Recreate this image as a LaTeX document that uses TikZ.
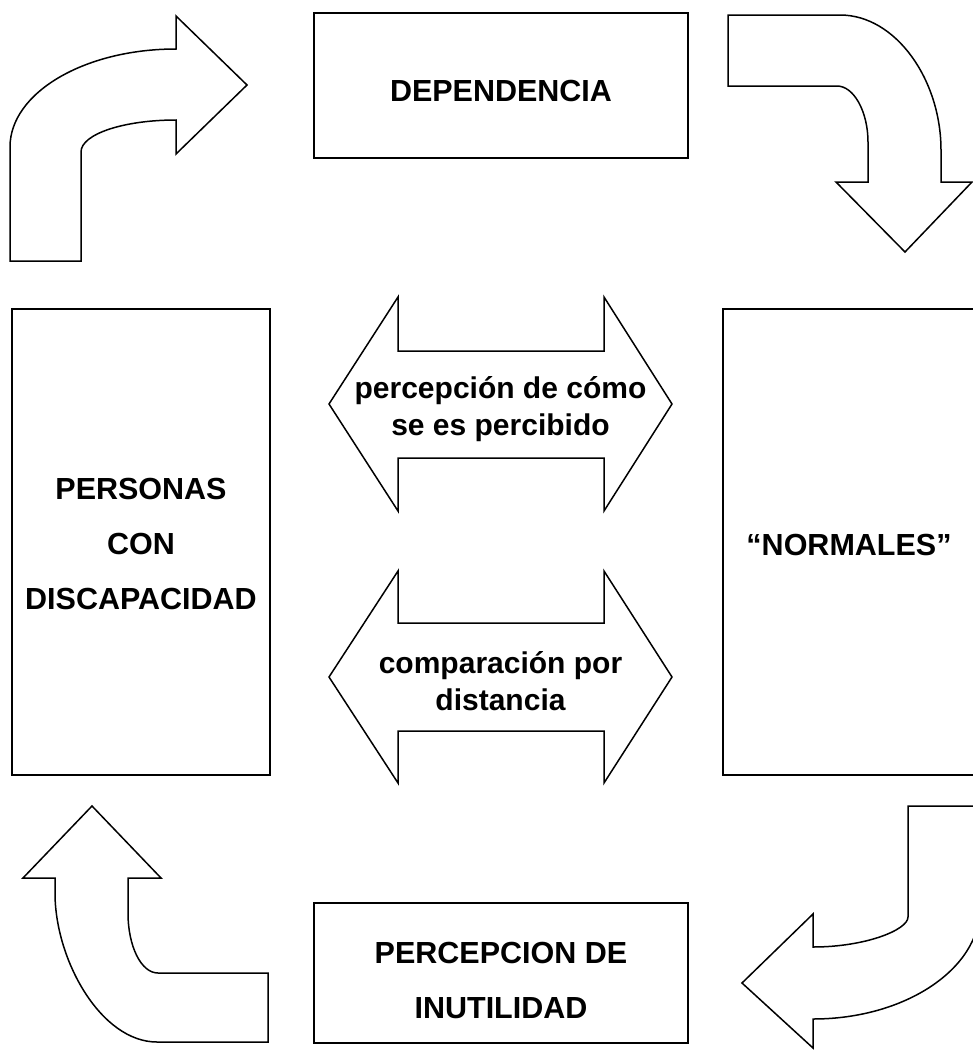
\documentclass[tikz,border=0pt]{standalone}
\usepackage{fontspec}
\setmainfont{Liberation Sans}
\begin{document}
\begin{tikzpicture}[x=1pt,y=-1pt,
  outline/.style={draw=black,line width=1.5pt,line join=miter,fill=white},
  boxnode/.style={draw=black,line width=1.5pt,rectangle,inner sep=0pt},
  boxtext/.style={align=center,inner sep=0pt,font=\fontsize{30.5}{55}\selectfont\bfseries},
  arrowtext/.style={align=center,inner sep=0pt,font=\fontsize{30}{37}\selectfont\bfseries}]
\useasboundingbox (0,0) rectangle (973,1050);
\clip (0,0) rectangle (973,1050);

% top-left curved arrow
\draw[outline] (10,261) -- (10,147) .. controls (10,93) and (84,49) .. (176,49)
  -- (176,16) -- (247,85) -- (176,154) -- (176,120)
  .. controls (124,120) and (81,134) .. (81,152) -- (81,261) -- cycle;

% top-right curved arrow
\draw[outline] (728,15) -- (840,15) .. controls (896,15) and (941,80) .. (941,150)
  -- (941,182) -- (972,182) -- (905,252) -- (836,182) -- (868,182) -- (868,142)
  .. controls (868,112) and (854,86) .. (837,86) -- (728,86) -- cycle;

% bottom-left curved arrow
\draw[outline] (92,806) -- (161,878) -- (128,878) -- (128,913) .. controls (128,946) and (141,973) .. (158,973)
  -- (268,973) -- (268,1042) -- (157,1042)
  .. controls (101,1042) and (55,960) .. (55,893) -- (55,878) -- (23,878) -- cycle;

% bottom-right curved arrow
\draw[outline] (908,806) -- (980,806) -- (980,908) .. controls (980,969) and (905,1019) .. (813,1019)
  -- (813,1048) -- (742,983) -- (813,914) -- (813,947)
  .. controls (865,947) and (908,930) .. (908,917) -- cycle;

% double arrows
\draw[outline] (329,404) -- (398,297) -- (398,351) -- (604,351) -- (604,297) -- (672,404)
  -- (604,511) -- (604,458) -- (398,458) -- (398,511) -- cycle;
\draw[outline] (329,677) -- (398,571) -- (398,623) -- (604,623) -- (604,571) -- (672,677)
  -- (604,783) -- (604,731) -- (398,731) -- (398,783) -- cycle;

\node[arrowtext] (percep) at (500.5,409) {percepción de cómo\\se es percibido};
\node[arrowtext] (compar) at (500.5,681) {comparación por\\distancia};

% boxes
\node[boxnode,minimum width=374pt,minimum height=145pt] (dep) at (501,85.5) {};
\node[boxtext] (deplabel) at (501,91) {DEPENDENCIA};
\node[boxnode,minimum width=258pt,minimum height=466pt] (pers) at (141,542) {};
\node[boxtext] (perslabel) at (141,544) {PERSONAS\\CON\\DISCAPACIDAD};
\node[boxnode,minimum width=257pt,minimum height=466pt] (norm) at (851.5,542) {};
\node[boxtext] (normlabel) at (849,545) {“NORMALES”};
\node[boxnode,minimum width=374pt,minimum height=140pt] (inut) at (501,973) {};
\node[boxtext] (inutlabel) at (501,980) {PERCEPCION DE\\INUTILIDAD};
\end{tikzpicture}
\end{document}
